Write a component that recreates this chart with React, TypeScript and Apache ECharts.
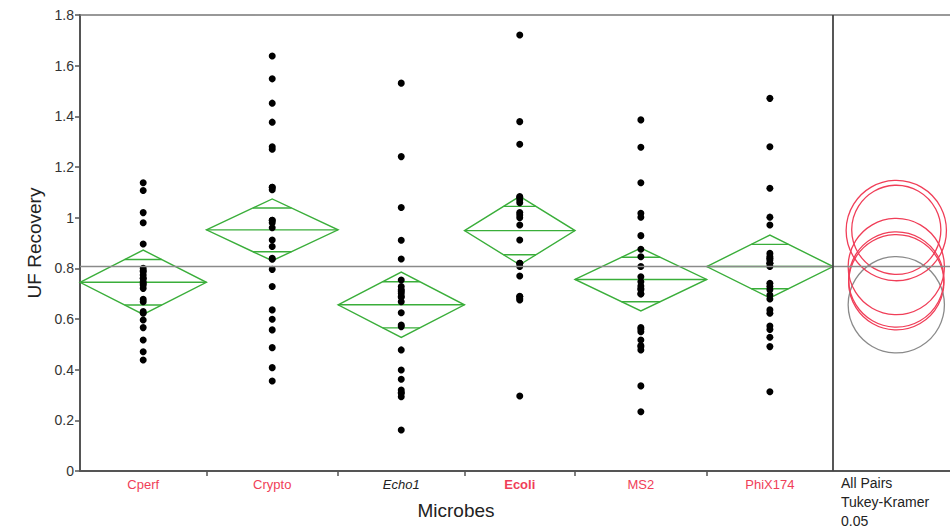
import React, { useEffect, useRef } from "react";
import * as echarts from "echarts";

// ---- data ----
const groups = ["Cperf", "Crypto", "Echo1", "Ecoli", "MS2", "PhiX174"];

const cperf = [1.138, 1.107, 1.02, 0.98, 0.896, 0.8, 0.79, 0.787, 0.774, 0.761, 0.76, 0.747, 0.74, 0.734, 0.721, 0.678, 0.668, 0.629, 0.623, 0.596, 0.566, 0.517, 0.471, 0.438];
const crypto = [1.638, 1.548, 1.452, 1.377, 1.28, 1.27, 1.12, 1.12, 1.11, 0.99, 0.99, 0.98, 0.96, 0.912, 0.886, 0.84, 0.836, 0.796, 0.728, 0.636, 0.599, 0.557, 0.487, 0.408, 0.355];
const echo1 = [1.531, 1.241, 1.04, 0.911, 0.837, 0.754, 0.728, 0.715, 0.71, 0.702, 0.69, 0.686, 0.668, 0.625, 0.576, 0.57, 0.478, 0.399, 0.362, 0.32, 0.31, 0.307, 0.293, 0.162];
const ecoli = [1.721, 1.379, 1.29, 1.083, 1.08, 1.07, 1.059, 1.02, 1.011, 1.0, 0.971, 0.912, 0.82, 0.82, 0.807, 0.77, 0.69, 0.688, 0.68, 0.675, 0.296];
const ms2 = [1.386, 1.278, 1.138, 1.017, 1.002, 0.929, 0.875, 0.846, 0.807, 0.767, 0.747, 0.73, 0.72, 0.715, 0.7, 0.699, 0.566, 0.56, 0.55, 0.517, 0.495, 0.49, 0.478, 0.336, 0.234];
const phix174 = [1.471, 1.28, 1.116, 1.002, 0.971, 0.859, 0.846, 0.84, 0.833, 0.82, 0.82, 0.807, 0.741, 0.728, 0.715, 0.695, 0.679, 0.636, 0.623, 0.572, 0.559, 0.528, 0.491, 0.313];

const groupValues = [cperf, crypto, echo1, ecoli, ms2, phix174];
const means = [0.745, 0.952, 0.656, 0.949, 0.756, 0.807];
const ciHalf = [0.127, 0.122, 0.129, 0.135, 0.124, 0.124];
const circleRadius = [0.188, 0.176, 0.19, 0.198, 0.188, 0.19];
const grandMean = 0.81;
const yTicks = [0, 0.2, 0.4, 0.6, 0.8, 1, 1.2, 1.4, 1.6, 1.8];

// ---- styles ----
const RED = "#f03e58";
const GREEN = "#3aae3a";
const labelStyles: Record<string, any> = {
  Cperf: { color: RED },
  Crypto: { color: RED },
  Echo1: { color: "#222", fontStyle: "italic" },
  Ecoli: { color: RED, fontWeight: "bold" },
  MS2: { color: RED },
  PhiX174: { color: RED },
};
const circleColors = [RED, RED, "#8a8a8a", RED, RED, RED];
const FONT = "'Liberation Sans', Arial, sans-serif";

export default function App() {
  const ref = useRef<HTMLDivElement>(null);

  useEffect(() => {
    document.body.style.margin = "0";
    if (!ref.current) return;
    const chart = echarts.init(ref.current, null, { renderer: "svg" });

    // group boundaries from sample sizes
    const bounds: number[] = [0];
    groupValues.forEach((g) => bounds.push(bounds[bounds.length - 1] + g.length));
    const total = bounds[bounds.length - 1];
    const centers = groups.map((_, i) => (bounds[i] + bounds[i + 1]) / 2);
    const panelWidth = 22.2; // extra units for circle panel
    const xMax = total + panelWidth;
    const circleX = total + 12;

    const points: number[][] = [];
    groupValues.forEach((g, i) => g.forEach((v) => points.push([centers[i], v])));

    const diamonds = groups.map((_, i) => [bounds[i], bounds[i + 1], means[i], ciHalf[i]]);
    const circles = groups.map((_, i) => [circleX, means[i], circleRadius[i], i]);

    const option: any = {
      animation: false,
      grid: { left: 80, top: 15, right: 0, bottom: 58, containLabel: false },
      xAxis: [
        {
          type: "value",
          min: 0,
          max: xMax,
          position: "bottom",
          axisLine: { show: true, lineStyle: { color: "#555", width: 2 } },
          axisTick: {
            show: true,
            customValues: bounds.slice(1, bounds.length - 1),
            length: 5,
            lineStyle: { color: "#555", width: 1.5 },
          },
          axisLabel: {
            show: true,
            customValues: centers,
            margin: 7,
            fontFamily: FONT,
            fontSize: 13,
            formatter: (v: number) => {
              const idx = centers.findIndex((c) => Math.abs(c - v) < 1e-6);
              return idx >= 0 ? `{g${idx}|${groups[idx]}}` : "";
            },
            rich: Object.fromEntries(
              groups.map((g, i) => [`g${i}`, { ...labelStyles[g], fontFamily: FONT, fontSize: 13 }])
            ),
          },
          splitLine: { show: false },
        },
        {
          type: "value",
          min: 0,
          max: xMax,
          position: "top",
          axisLine: { show: true, lineStyle: { color: "#777", width: 1.5 } },
          axisTick: { show: false },
          axisLabel: { show: false },
          splitLine: { show: false },
        },
      ],
      yAxis: {
        type: "value",
        min: 0,
        max: 1.8,
        interval: 0.2,
        name: "UF Recovery",
        nameLocation: "middle",
        nameGap: 36,
        nameTextStyle: { fontFamily: FONT, fontSize: 19, color: "#222" },
        axisLine: { show: true, lineStyle: { color: "#555", width: 2 } },
        axisTick: { show: true, length: 5, lineStyle: { color: "#555", width: 1.5 } },
        axisLabel: {
          fontFamily: FONT,
          fontSize: 14,
          color: "#333",
          margin: 6,
          formatter: (v: number) => {
            const t = yTicks.find((y) => Math.abs(y - v) < 1e-6);
            return t === undefined ? "" : String(t);
          },
        },
        splitLine: { show: false },
      },
      graphic: [
        {
          type: "text",
          x: 456,
          y: 510,
          style: {
            text: "Microbes",
            fontFamily: FONT,
            fontSize: 19,
            fill: "#222",
            align: "center",
            verticalAlign: "middle",
          },
        },
        {
          type: "text",
          left: 841,
          top: 473,
          style: {
            text: "All Pairs\nTukey-Kramer\n0.05",
            fontFamily: FONT,
            fontSize: 14,
            lineHeight: 19,
            fill: "#222",
          },
        },
      ],
      series: [
        {
          type: "custom",
          name: "means",
          silent: true,
          data: diamonds,
          z: 3,
          renderItem: (_p: any, api: any) => {
            const x0 = api.value(0);
            const x1 = api.value(1);
            const m = api.value(2);
            const h = api.value(3);
            const xc = (x0 + x1) / 2;
            const k = Math.SQRT1_2;
            const pL = api.coord([x0, m]);
            const pR = api.coord([x1, m]);
            const pT = api.coord([xc, m + h]);
            const pB = api.coord([xc, m - h]);
            const hw = ((x1 - x0) / 2) * (1 - k);
            const a1 = api.coord([xc - hw, m + h * k]);
            const a2 = api.coord([xc + hw, m + h * k]);
            const b1 = api.coord([xc - hw, m - h * k]);
            const b2 = api.coord([xc + hw, m - h * k]);
            const st = { stroke: GREEN, lineWidth: 1.4, fill: "none" };
            return {
              type: "group",
              children: [
                { type: "polygon", shape: { points: [pL, pT, pR, pB] }, style: st },
                { type: "line", shape: { x1: pL[0], y1: pL[1], x2: pR[0], y2: pR[1] }, style: st },
                { type: "line", shape: { x1: a1[0], y1: a1[1], x2: a2[0], y2: a2[1] }, style: st },
                { type: "line", shape: { x1: b1[0], y1: b1[1], x2: b2[0], y2: b2[1] }, style: st },
              ],
            };
          },
        },
        {
          type: "scatter",
          name: "points",
          data: points,
          symbol: "circle",
          symbolSize: 7,
          itemStyle: { color: "#000", opacity: 1 },
          z: 4,
          markLine: {
            silent: true,
            symbol: "none",
            label: { show: false },
            data: [
              { yAxis: grandMean, lineStyle: { color: "#8a8a8a", width: 1.3, type: "solid" } },
              { xAxis: total, lineStyle: { color: "#444", width: 1.8, type: "solid" } },
            ],
          },
        },
        {
          type: "custom",
          name: "circles",
          silent: true,
          data: circles,
          z: 3,
          renderItem: (_p: any, api: any) => {
            const c = api.coord([api.value(0), api.value(1)]);
            const r = api.size([0, api.value(2)])[1];
            const idx = api.value(3);
            return {
              type: "circle",
              shape: { cx: c[0], cy: c[1], r },
              style: { fill: "none", stroke: circleColors[idx], lineWidth: 1.3 },
            };
          },
        },
      ],
    };

    chart.setOption(option);
    return () => chart.dispose();
  }, []);

  return <div ref={ref} style={{ width: 950, height: 529 }} />;
}
